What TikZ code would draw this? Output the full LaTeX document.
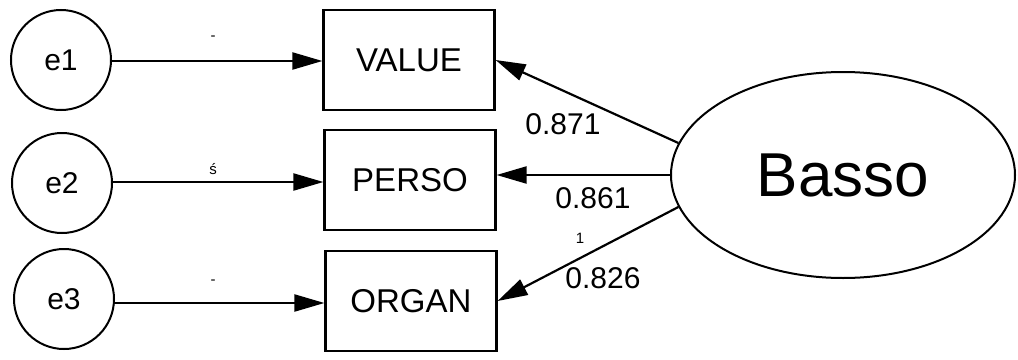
\documentclass[tikz,border=0pt]{standalone}
\usepackage{fontspec}
\setmainfont{Liberation Sans}
\usetikzlibrary{arrows.meta,shapes.geometric}
\begin{document}
\begin{tikzpicture}[x=1pt,y=-1pt,
  err/.style={draw,circle,line width=2pt,minimum size=100pt,inner sep=0pt,font=\fontsize{30}{32}\selectfont},
  obs/.style={draw,rectangle,line width=2.2pt,minimum width=171pt,minimum height=100pt,inner sep=0pt,font=\fontsize{33}{36}\selectfont},
  lat/.style={draw,ellipse,line width=2pt,minimum width=344pt,minimum height=206pt,inner sep=0pt,font=\fontsize{62}{66}\selectfont},
  arr/.style={line width=2.2pt,-{Triangle[length=30pt,width=17pt]}},
  lab/.style={font=\fontsize{30}{32}\selectfont,inner sep=0pt},
  tiny/.style={font=\fontsize{15}{16}\selectfont,inner sep=0pt}]
\useasboundingbox (0,0) rectangle (1018,359);
\node[err] (e1) at (61,60) {e1};
\node[err] (e2) at (62,183) {e2};
\node[err] (e3) at (64,299) {e3};
\node[obs] (v) at (409,60) {VALUE};
\node[obs] (p) at (410,180) {PERSO};
\node[obs] (o) at (411,301) {ORGAN};
\node[lat] (b) at (843,175) {Basso};
\draw[arr] (e1.east |- 0,61) -- (v.west |- 0,61);
\draw[arr] (e2.east |- 0,182) -- (p.west |- 0,182);
\draw[arr] (e3.east |- 0,303) -- (o.west |- 0,303);
\draw[arr] (b.169) -- (v.east);
\draw[arr] (b.180) -- (p.east |- b.180);
\draw[arr] (b.191) -- (o.east);
\node[lab] (l1) at (563,124) {0.871};
\node[lab] (l2) at (593,198) {0.861};
\node[tiny] (l3) at (580,238) {1};
\node[lab] (l4) at (603,278) {0.826};
\node[tiny] (m1) at (213,38) {-};
\node[tiny] (m2) at (213,169) {ś};
\node[tiny] (m3) at (213,282) {-};
\end{tikzpicture}
\end{document}
